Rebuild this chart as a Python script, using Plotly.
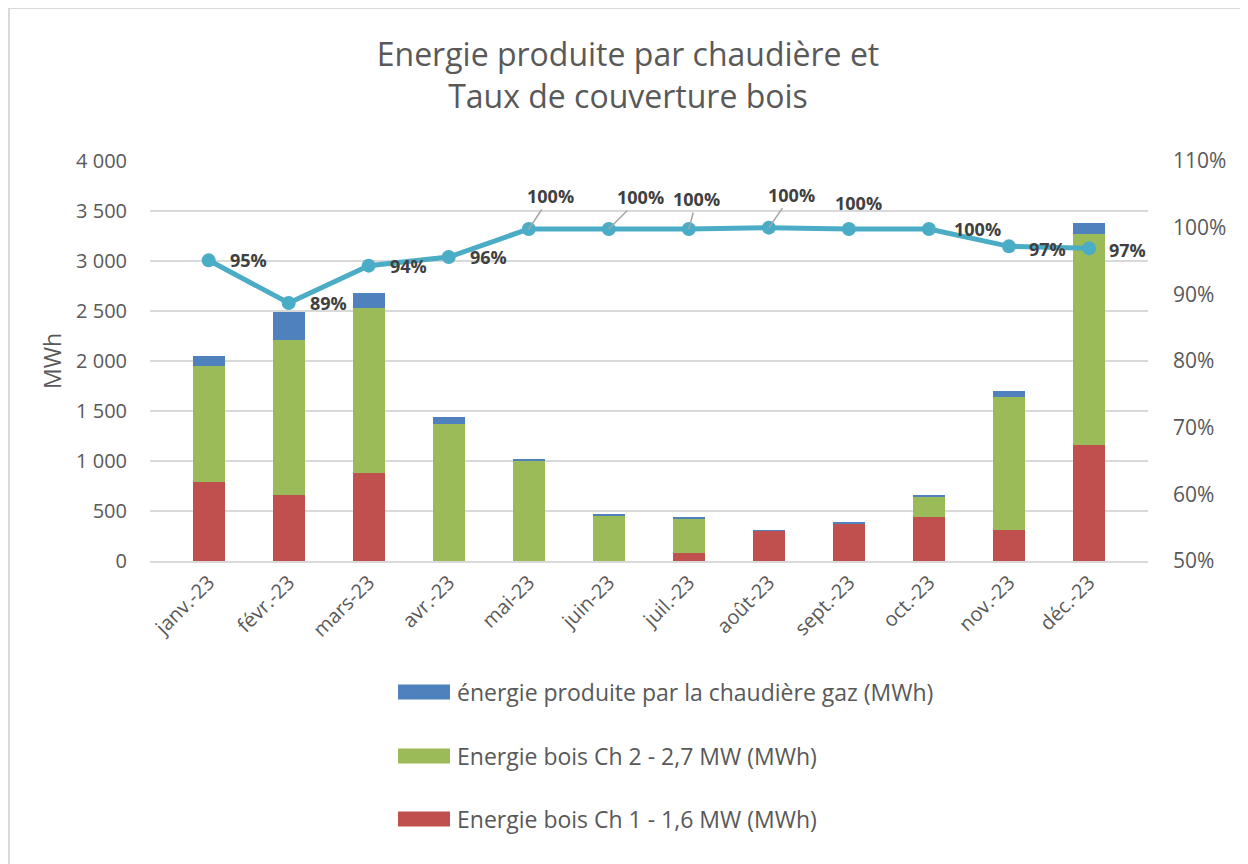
import plotly.graph_objects as go

# %% Daten

mois = ["janv.-23", "févr.-23", "mars-23", "avr.-23", "mai-23", "juin-23",
        "juil.-23", "août-23", "sept.-23", "oct.-23", "nov.-23", "déc.-23"]

bois_ch1 = [793, 657, 877, 0, 0, 0, 77, 307, 377, 437, 310, 1157]
bois_ch2 = [1157, 1550, 1650, 1373, 1000, 450, 346, 0, 0, 206, 1333, 2113]
gaz = [100, 280, 150, 64, 13, 13, 14, 2, 13, 14, 54, 113]

taux_couverture = [95.1, 88.7, 94.3, 95.6, 99.8, 99.8, 99.8, 100.0, 99.8, 99.8, 97.2, 96.9]

noms = ["Energie bois Ch 1 - 1,6 MW (MWh)",
        "Energie bois Ch 2 - 2,7 MW (MWh)",
        "énergie produite par la chaudière gaz (MWh)"]
couleurs = ["#C0504D", "#9BBB59", "#4F81BD"]

titre = "Energie produite par chaudière et<br>Taux de couverture bois"

# %% Layout-Hilfen (Pixel der Vorlage -> paper)
# die Seite hat 8px Rand (body margin), also alles um 8px verschieben
OFF = 8
W, H = 1248, 864
PW, PH = 998, 400
ML, MT = 150 - OFF, 161 - OFF
MR, MB = W - ML - PW, H - MT - PH


def px_x(p):
    return (p - OFF - ML) / PW


def px_y(p):
    return (H - MB - (p - OFF)) / PH


FONT = "Open Sans"
GRIS = "#595959"
LBL = dict(family=FONT, size=18, color="#404040", weight="bold")

fig = go.Figure()

for vals, nom, c in zip([bois_ch1, bois_ch2, gaz], noms, couleurs):
    fig.add_trace(go.Bar(x=mois, y=vals, name=nom, marker=dict(color=c, line=dict(width=0)),
                         showlegend=False))

fig.add_trace(go.Scatter(
    x=mois, y=taux_couverture, yaxis="y2", mode="lines+markers",
    name="Taux de couverture bois",
    line=dict(color="#4BACC6", width=5),
    marker=dict(size=14, color="#4BACC6"),
    showlegend=False
))

# Etiquettes des points: (dx, dy, leader)
placement = [(19, 0, False), (19, 0, False), (19, 0, False), (19, 0, False),
             (22, -33, True), (32, -32, True), (8, -30, True), (23, -33, True),
             (10, -26, False), (23, 0, False), (18, 3, False), (18, 2, False)]

for m, v, (dx, dy, leader) in zip(mois, taux_couverture, placement):
    txt = f"{round(v)}%"
    if leader:
        fig.add_annotation(x=m, y=v, xref="x", yref="y2", text=txt, showarrow=True,
                           ax=dx, ay=dy, arrowhead=0, arrowwidth=1.5, arrowcolor="#A6A6A6",
                           font=LBL)
    elif dy != 0 and dx < 15:
        fig.add_annotation(x=m, y=v, xref="x", yref="y2", text=txt, showarrow=False,
                           xshift=dx, yshift=-dy, font=LBL)
    else:
        fig.add_annotation(x=m, y=v, xref="x", yref="y2", text=txt, showarrow=False,
                           xanchor="left", xshift=dx, yshift=-dy, font=LBL)

# Légende faite à la main (rectangles larges comme Excel)
leg_y = [692, 756, 819]
for nom, c, yy in zip(noms[::-1], couleurs[::-1], leg_y):
    fig.add_shape(type="rect", xref="paper", yref="paper",
                  x0=px_x(398), x1=px_x(450), y0=px_y(yy + 7.5), y1=px_y(yy - 7.5),
                  fillcolor=c, line=dict(width=0))
    fig.add_annotation(xref="paper", yref="paper", x=px_x(455), y=px_y(yy), text=nom,
                       showarrow=False, xanchor="left", yanchor="middle",
                       font=dict(family=FONT, size=23, color=GRIS))

# Cadre
fig.add_shape(type="rect", xref="paper", yref="paper",
              x0=px_x(9), x1=px_x(1246), y0=px_y(880), y1=px_y(8),
              line=dict(color="#D9D9D9", width=2), fillcolor="rgba(0,0,0,0)", layer="below")

fig.update_layout(
    width=W, height=H,
    margin=dict(l=ML, r=MR, t=MT, b=MB),
    paper_bgcolor="white", plot_bgcolor="white",
    barmode="stack", bargap=0.6,
    separators=", ",
    font=dict(family=FONT, color=GRIS),
    title=dict(text=titre, x=(628 - OFF) / W, xref="container", xanchor="center",
               y=1 - (66 - OFF) / H, yref="container", yanchor="middle",
               font=dict(family=FONT, size=32, color=GRIS)),
    xaxis=dict(tickangle=-45, tickfont=dict(size=20, color=GRIS), showgrid=False,
               showline=True, linecolor="#D9D9D9", linewidth=1.5, ticks=""),
    yaxis=dict(range=[0, 4000], dtick=500, tickformat=",.0f",
               gridcolor="#D9D9D9", gridwidth=1.5, zeroline=False,
               tickfont=dict(size=20, color=GRIS), ticklabelstandoff=22,
               title=dict(text="MWh", font=dict(size=23, color=GRIS), standoff=8)),
    yaxis2=dict(range=[50, 110], dtick=10, ticksuffix="%", overlaying="y", side="right",
                showgrid=False, zeroline=False,
                tickfont=dict(size=21, color=GRIS), ticklabelstandoff=24),
    showlegend=False,
)

fig.write_html("out.html")
